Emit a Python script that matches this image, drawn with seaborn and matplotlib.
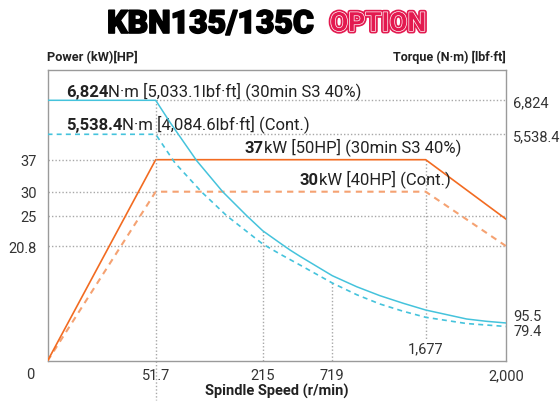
import numpy as np
import pandas as pd
import seaborn as sns
import matplotlib
matplotlib.use("Agg")
from matplotlib import pyplot as plt
import matplotlib.patheffects as pe

# ---- data ----
speed_ticks = [0, 51.7, 215, 719, 1677, 2000]
power_ticks = [20.8, 25, 30, 37]
torque_ticks = [79.4, 95.5, 5538.4, 6824]

# power (kW), 30min S3 40% and continuous
power_speed = [0, 51.7, 1677, 2000]
power_s3 = [0, 37, 37, 24.5]
power_cont = [0, 30, 30, 20.8]

# torque (N·m), 30min S3 40%
torque_s3_speed = [0, 51.7, 73.5, 114.3, 153.9, 190.6, 215, 340, 412.7, 485,
                   719, 969, 1208, 1447, 1677, 1841, 1921, 2000]
torque_s3 = [6824, 6824, 5992, 4776, 3882, 3190, 2757, 2403, 2201, 2019,
             1460, 1142, 883, 664, 470, 211, 144, 95.5]
# torque (N·m), continuous
torque_cont_speed = [0, 51.7, 81.2, 121.9, 160.0, 215, 340, 485, 719, 969,
                     1208, 1447, 1677, 1841, 2000]
torque_cont = [5538.4, 5538.4, 4710, 3873, 3190, 2374, 2085, 1768, 1249, 912,
               643, 433, 260, 93, 79.4]

CYAN = "#45c3dc"
ORANGE = "#f26b21"
ORANGE_LT = "#f5a272"
GRID = "#a8a8a8"
FRAME = "#9a9a9a"
TXT = "#222222"
CRIMSON = "#e3194f"


def piecewise(vals, pos):
    """non linear axis of the catalogue chart: linear between break points"""
    vals = np.asarray(vals, float)
    pos = np.asarray(pos, float)

    def _map(v, a, b):
        v = np.asarray(v, float)
        out = np.interp(v, a, b)
        out = np.where(v < a[0], b[0] + (v - a[0]) * (b[1] - b[0]) / (a[1] - a[0]), out)
        out = np.where(v > a[-1], b[-1] + (v - a[-1]) * (b[-1] - b[-2]) / (a[-1] - a[-2]), out)
        return out

    return (lambda v: _map(v, vals, pos)), (lambda p: _map(p, pos, vals))


sns.set_theme(style="white")
plt.rcParams["font.family"] = ["Roboto", "DejaVu Sans"]
plt.rcParams["axes.edgecolor"] = FRAME
plt.rcParams["axes.linewidth"] = 1.0

fig = plt.figure(figsize=(5.6, 4.02), dpi=100)
ax = fig.add_axes([47.5 / 560, 40 / 402, 458.8 / 560, 291.3 / 402])
ax2 = ax.twinx()

xscale = piecewise(speed_ticks, [0, 108.2, 215.2, 284.8, 378.2, 458.8])
pscale = piecewise([0, 20.8, 25, 30, 37, 55], [0, 114.7, 145.3, 169.3, 201.3, 291.3])
tscale = piecewise([0, 79.4, 95.5, 5538.4, 6824, 8000], [0, 34.5, 38, 226.7, 260.7, 291.3])

for a in (ax, ax2):
    a.set_xscale("function", functions=xscale)
    a.set_xlim(0, 2000)
ax.set_yscale("function", functions=pscale)
ax.set_ylim(0, 55)
ax2.set_yscale("function", functions=tscale)
ax2.set_ylim(0, 8000)

dot = dict(color=GRID, lw=1.0, ls=(0, (1, 1.5)), zorder=1)
# dotted guides
ax.plot([0, 51.7], [37, 37], **dot)
ax.plot([0, 51.7], [30, 30], **dot)
ax.plot([0, 2000], [25, 25], **dot)
ax.plot([0, 2000], [20.8, 20.8], **dot)
ax.plot([1677, 1677], [37, 4], **dot)
ax2.plot([51.7, 2000], [6824, 6824], **dot)
ax2.plot([51.7, 2000], [5538.4, 5538.4], **dot)
ax2.plot([51.7, 51.7], [6824, 0], **dot)
ax2.plot([215, 215], [2757, 0], **dot)
ax2.plot([719, 719], [1249, 0], **dot)
ax.plot([51.7, 51.7], [0, -0.135], transform=ax.get_xaxis_transform(),
        clip_on=False, **dot)

power = pd.DataFrame({"speed": power_speed, "s3": power_s3, "cont": power_cont})
sns.lineplot(data=power, x="speed", y="cont", ax=ax, color=ORANGE_LT, lw=1.5,
             linestyle=(0, (3, 2.5)), estimator=None, sort=False, zorder=3)
sns.lineplot(data=power, x="speed", y="s3", ax=ax, color=ORANGE, lw=1.2,
             estimator=None, sort=False, zorder=4)

sns.lineplot(x=torque_cont_speed, y=torque_cont, ax=ax2, color=CYAN, lw=1.2,
             linestyle=(0, (3, 2.5)), estimator=None, sort=False, zorder=3)
sns.lineplot(x=torque_s3_speed, y=torque_s3, ax=ax2, color=CYAN, lw=1.1,
             estimator=None, sort=False, zorder=4)

# ticks
ax.set_xticks([51.7, 215, 719, 2000])
ax.set_xticklabels(["51.7", "215", "719", "2,000"])
ax.set_yticks(power_ticks)
ax.set_yticklabels(["20.8", "25", "30", "37"])
ax2.set_yticks(torque_ticks[2:])
ax2.set_yticklabels(["5,538.4", "6,824"])
for a in (ax, ax2):
    a.minorticks_off()
    a.tick_params(axis="both", which="both", length=0, labelsize=10.5,
                  labelcolor="#333333")
ax.tick_params(axis="x", pad=5)
ax.tick_params(axis="y", pad=8)
ax2.tick_params(axis="y", pad=5)
ax2.set_ylabel("")
ax.set_ylabel("")
ax.set_xlabel("Spindle Speed (r/min)", fontsize=10.5, fontweight="bold",
              color=TXT, labelpad=1)
for s in ax2.spines.values():
    s.set_visible(False)

ax2.annotate("95.5", xy=(1, 95.5), xycoords=("axes fraction", "data"),
             xytext=(5, 5), textcoords="offset points", va="center",
             fontsize=10.5, color="#333333")
ax2.annotate("79.4", xy=(1, 79.4), xycoords=("axes fraction", "data"),
             xytext=(5, -3), textcoords="offset points", va="center",
             fontsize=10.5, color="#333333")
ax.annotate("1,677", xy=(1677, 0), xytext=(0, 4), textcoords="offset points",
            ha="center", va="bottom", fontsize=10.5, color="#333333")
ax.text(-0.038, -0.045, "0", transform=ax.transAxes, ha="center", va="center",
        fontsize=10.5, color="#333333")


def mixed(x, y, bold, rest):
    t = ax.text(x, y, bold, transform=ax.transAxes, fontsize=12,
                fontweight="bold", color=TXT, va="baseline", zorder=6)
    ax.annotate(rest, xy=(1, 0), xycoords=t, va="bottom", ha="left",
                fontsize=12, color=TXT, zorder=6)


mixed(0.040, 0.911, "6,824", "N·m [5,033.1lbf·ft] (30min S3 40%)")
mixed(0.040, 0.798, "5,538.4", "N·m [4,084.6lbf·ft] (Cont.)")
mixed(0.430, 0.717, "37", "kW [50HP] (30min S3 40%)")
mixed(0.550, 0.608, "30", "kW [40HP] (Cont.)")

fig.text(47 / 560, 1 - 61 / 402, "Power (kW)[HP]", fontsize=9.2,
         fontweight="bold", color=TXT, ha="left", va="baseline")
fig.text(506 / 560, 1 - 61 / 402, "Torque (N·m) [lbf·ft]", fontsize=9,
         fontweight="bold", color=TXT, ha="right", va="baseline")

fig.text(210.7 / 560, 1 - 34 / 402, "KBN135/135C", fontsize=23,
         fontweight="black", color="black", ha="center", va="baseline",
         path_effects=[pe.Stroke(linewidth=1.2, foreground="black"),
                       pe.Normal()])
fig.text(378 / 560, 1 - 32 / 402, "OPTION", fontsize=19, fontweight="bold",
         color=CRIMSON, ha="center", va="baseline",
         path_effects=[pe.Stroke(linewidth=3.5, foreground=CRIMSON),
                       pe.Stroke(linewidth=1.0, foreground="white"),
                       pe.Normal()])

fig.savefig("out.png", dpi=100, facecolor="white")
